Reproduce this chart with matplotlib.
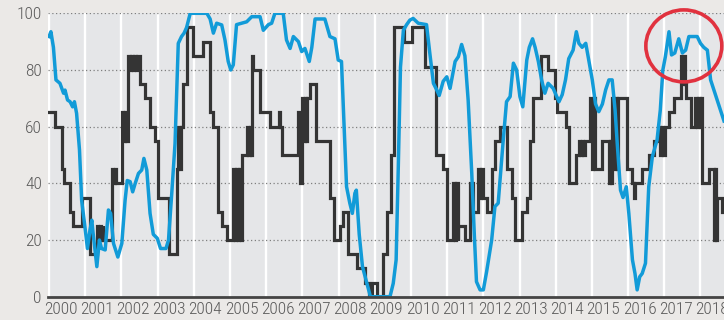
import matplotlib
matplotlib.use("Agg")
import matplotlib.pyplot as plt
from matplotlib.patches import Ellipse

plt.rcParams['font.family'] = ['Roboto Condensed', 'Liberation Sans', 'DejaVu Sans']

# dark step series: (years after 2000, value); quick back-and-forth runs drawn as thick blocks
dark_t = [0.00, 0.17, 0.35, 0.41, 0.58, 0.67, 0.90, 1.13,
          1.32, 1.36, 1.40, 1.44, 1.48, 1.50,
          1.73, 1.77, 1.81, 1.85, 1.89,
          2.01, 2.05, 2.09, 2.13, 2.17,
          2.19, 2.23, 2.27, 2.31, 2.35, 2.39, 2.43, 2.47,
          2.51, 2.65, 2.79, 2.93, 3.02, 3.30,
          3.53, 3.57, 3.61, 3.65, 3.71, 3.80, 3.99, 4.26, 4.45,
          4.54, 4.68, 4.77, 4.91,
          5.09, 5.13, 5.17, 5.21, 5.25, 5.29, 5.32,
          5.46, 5.50, 5.54, 5.58,
          5.60, 5.64, 5.69, 5.83, 6.10, 6.34, 6.38, 6.43,
          6.89, 6.93, 6.98, 7.02, 7.06, 7.10, 7.12, 7.21, 7.38,
          7.76, 7.87, 8.04, 8.13, 8.27, 8.50, 8.72, 8.83, 8.92, 9.05,
          9.24, 9.35, 9.46, 9.53, 9.80, 10.03, 10.40, 10.70, 10.89, 10.99,
          11.17, 11.21, 11.25, 11.29, 11.31, 11.49, 11.63, 11.72,
          11.86, 11.90, 11.94, 11.98, 12.09, 12.23, 12.32, 12.46, 12.64,
          12.78, 12.87, 13.06, 13.20, 13.29, 13.38, 13.60, 13.78, 13.99,
          14.04, 14.28, 14.38, 14.55,
          14.64, 14.68, 14.72, 14.76, 14.80, 14.83,
          14.96, 15.00, 15.04, 15.08, 15.10, 15.29,
          15.42, 15.46, 15.50, 15.54,
          15.56, 15.60, 15.64, 15.68, 15.72, 15.75, 15.98,
          16.12, 16.16, 16.20, 16.25, 16.39, 16.57, 16.71,
          16.85, 16.89, 16.93, 16.97, 17.01, 17.03, 17.13, 17.27,
          17.45, 17.49, 17.53, 17.57, 17.60, 17.73,
          17.86, 17.90, 17.94, 17.98, 18.02, 18.05, 18.23,
          18.37, 18.41, 18.44, 18.46, 18.60, 18.65]
dark_v = [65, 60, 45, 40, 30, 25, 35, 15,
          25, 20, 25, 20, 25, 20,
          45, 40, 45, 40, 40,
          65, 55, 65, 55, 65,
          85, 80, 85, 80, 85, 80, 85, 85,
          75, 70, 60, 55, 35, 15,
          45, 60, 45, 60, 75, 95, 85, 90, 65,
          60, 30, 25, 20,
          45, 20, 45, 20, 45, 20, 50,
          60, 50, 60, 50,
          85, 80, 80, 65, 60, 65, 60, 50,
          65, 40, 70, 55, 70, 55, 70, 75, 55,
          35, 20, 25, 30, 15, 10, 5, 0, 5, 0,
          15, 30, 50, 95, 90, 95, 81, 50, 45, 20,
          40, 20, 40, 20, 25, 20, 40, 30,
          45, 35, 45, 35, 30, 45, 55, 60, 45,
          35, 20, 30, 35, 55, 70, 85, 80, 70,
          65, 60, 40, 50,
          55, 50, 55, 50, 55, 55,
          70, 45, 70, 45, 45, 55,
          55, 40, 55, 40,
          70, 45, 70, 45, 70, 70, 45,
          40, 35, 40, 40, 45, 50, 55,
          60, 50, 60, 50, 60, 60, 65, 70,
          85, 75, 85, 75, 70, 60,
          70, 60, 70, 60, 70, 40, 45,
          20, 45, 20, 35, 30, 30]

# blue series: (years after 2000, value)
blue_t = [0.00, 0.05, 0.12, 0.19, 0.30, 0.40, 0.44, 0.51, 0.58, 0.65, 0.70, 0.76,
          0.84, 0.90, 0.99, 1.06, 1.13, 1.18, 1.22, 1.32, 1.39, 1.45, 1.55, 1.64,
          1.70, 1.78, 1.90, 2.01, 2.10, 2.16, 2.24, 2.31, 2.38, 2.47, 2.56, 2.62,
          2.70, 2.79, 2.88, 2.99, 3.08, 3.23, 3.30, 3.39, 3.48, 3.57, 3.66, 3.73,
          3.80, 3.90, 4.36, 4.45, 4.54, 4.63, 4.77, 4.86, 4.95, 5.02, 5.09, 5.18,
          5.32, 5.46, 5.60, 5.83, 5.92, 6.06, 6.15, 6.24, 6.47, 6.56, 6.66, 6.75,
          6.89, 6.98, 7.07, 7.19, 7.26, 7.35, 7.62, 7.76, 7.90, 7.99, 8.08, 8.16,
          8.22, 8.31, 8.38, 8.45, 8.49, 8.57, 8.66, 8.77, 8.88, 9.42, 9.51, 9.59,
          9.65, 9.71, 9.79, 9.88, 9.97, 10.06, 10.20, 10.43, 10.52, 10.62, 10.71, 10.78,
          10.89, 10.99, 11.08, 11.22, 11.31, 11.40, 11.49, 11.58, 11.68, 11.75, 11.81, 11.91,
          12.00, 12.09, 12.23, 12.32, 12.41, 12.55, 12.64, 12.74, 12.83, 12.92, 13.01, 13.09,
          13.20, 13.27, 13.36, 13.43, 13.52, 13.61, 13.70, 13.79, 13.93, 14.09, 14.18, 14.27,
          14.36, 14.48, 14.57, 14.64, 14.73, 14.83, 14.92, 15.01, 15.10, 15.19, 15.29, 15.38,
          15.47, 15.56, 15.64, 15.70, 15.79, 15.86, 15.95, 16.02, 16.12, 16.19, 16.25, 16.32,
          16.39, 16.48, 16.57, 16.67, 16.80, 16.89, 16.96, 17.03, 17.13, 17.20, 17.29, 17.40,
          17.50, 17.59, 17.68, 17.91, 18.00, 18.09, 18.19, 18.28, 18.37, 18.46, 18.55, 18.65]
blue_v = [91.8, 93.5, 88, 76.5, 75.3, 71.8, 72.9, 69.4, 68.8, 67, 68.8, 64.7,
          51.8, 34, 24.7, 17, 23.5, 27, 22, 10.6, 20, 17, 16.5, 30.6,
          29.4, 18.8, 14, 18.8, 34, 41, 40.6, 37, 40, 43.5, 44.7, 48.8,
          44.7, 29.4, 22, 20.6, 17, 17, 20, 36.5, 54, 89.4, 91.8, 93,
          95, 100, 100, 98, 93, 96.5, 95.9, 90.6, 83, 80, 81.8, 96,
          96.5, 97, 98.8, 98.8, 94, 96, 96.5, 100, 100, 90.6, 87.6, 91.8,
          90, 86.5, 87.6, 83, 88, 98, 98, 91.8, 91, 83.5, 83, 57.6,
          38.8, 33, 29.4, 36.5, 37.6, 22, 10.6, 5.3, 0, 0, 4.7, 13,
          46, 81, 94, 96, 97.6, 98.2, 96.5, 96, 86, 75.3, 73, 71,
          76, 77.6, 73.5, 83, 84.7, 89, 85, 69.4, 43.5, 22, 5.3, 2.4,
          2.4, 8.8, 20, 31.8, 33, 55.3, 68.8, 70.6, 82.4, 80, 70.6, 67,
          83.5, 88, 91, 88, 83, 76.5, 71.8, 75.3, 73.5, 68.8, 71.3, 76.5,
          84, 87, 93.5, 89.4, 88, 89.4, 83, 76.5, 68, 65.3, 68, 73,
          76.5, 76.5, 65.9, 54, 37.6, 35, 38.8, 29.4, 13, 8.2, 2.4, 7,
          8.2, 11.8, 38.8, 49.4, 55.3, 65.9, 80, 84.7, 93.5, 85.3, 86, 91,
          86, 87, 91.8, 91.8, 89.4, 88, 87, 76.5, 73, 69.4, 65.9, 62]

years = list(range(2000, 2019))
y_ticks = [0, 20, 40, 60, 80, 100]

fig = plt.figure(figsize=(7.24, 3.2), dpi=100)
fig.patch.set_facecolor('#ebe9e7')
ax = fig.add_axes([48 / 724, 23.3 / 320, 676 / 724, 283.4 / 320])
ax.set_facecolor('#e5e6e8')

for yr in years:
    ax.axvline(yr, color='white', lw=1.7, zorder=1)
for yv in y_ticks[1:]:
    ax.axhline(yv, color='#7f7f7f', lw=0.9, ls=(0, (1, 2)), zorder=2)

ax.plot([2000 + t for t in dark_t], dark_v, drawstyle='steps-post',
        color='#343434', lw=2.3, zorder=3, solid_joinstyle='miter')
ax.plot([2000 + t for t in blue_t], blue_v, color='#129bd8', lw=2.5, zorder=4,
        solid_joinstyle='round')

ax.add_patch(Ellipse((2017.54, 88.5), 2.1, 25.4, fill=False, ec='#e1323f',
                     lw=2.6, zorder=5, clip_on=False))

ax.set_xlim(1999.97, 2018.65)
ax.set_ylim(0, 100)
ax.set_xticks([yr + 0.32 for yr in years])
ax.set_xticklabels([str(yr) for yr in years])
ax.set_yticks(y_ticks)
ax.tick_params(length=0, labelsize=12.5, colors='#5a5a5a')
ax.tick_params(axis='x', pad=3.5)
ax.tick_params(axis='y', pad=4.5)
for lab in ax.get_xticklabels() + ax.get_yticklabels():
    lab.set_fontweight('light')

for side in ['top', 'right', 'left']:
    ax.spines[side].set_visible(False)
ax.spines['bottom'].set_color('#444444')
ax.spines['bottom'].set_linewidth(2)
ax.spines['bottom'].set_zorder(6)

fig.savefig('out.png', dpi=100, facecolor=fig.get_facecolor())
